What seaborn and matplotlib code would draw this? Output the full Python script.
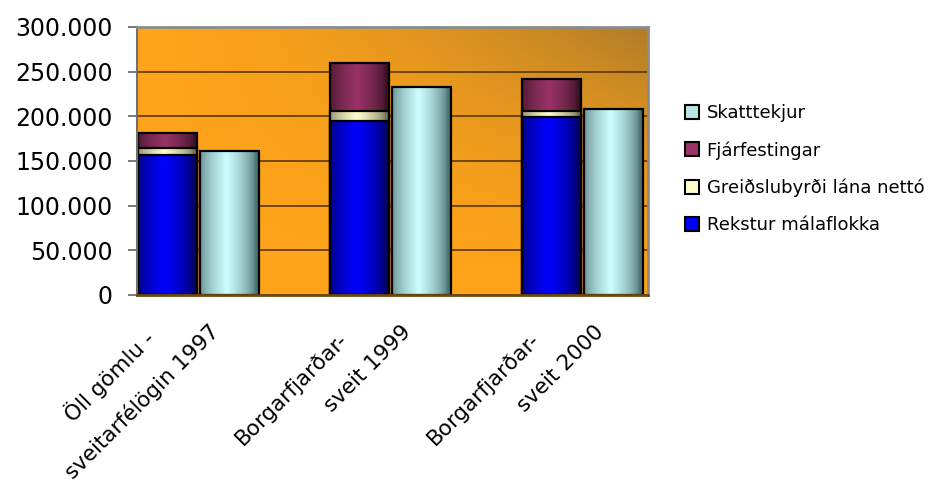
#! /usr/bin/env python3
'''
Rekstur, fjárfestingar og skatttekjur sveitarfélaga - stöplarit
'''

# imports
import numpy as np
import pandas as pd
import seaborn as sns
import matplotlib.pyplot as plt
import matplotlib.transforms as mtransforms
from matplotlib.colors import to_rgb
from matplotlib.patches import Patch

# data
categories = ['Öll gömlu -\nsveitarfélögin 1997', 'Borgarfjarðar-\nsveit 1999', 'Borgarfjarðar-\nsveit 2000']
rekstur = [157000, 195000, 199500]
greidslubyrdi = [7000, 11000, 6000]
fjarfestingar = [17000, 53500, 36000]
skatttekjur = [161000, 233000, 208500]
series_names = ['Skatttekjur', 'Fjárfestingar', 'Greiðslubyrði lána nettó', 'Rekstur málaflokka']
yticks = [0, 50000, 100000, 150000, 200000, 250000, 300000]
ytick_labels = ['0', '50.000', '100.000', '150.000', '200.000', '250.000', '300.000']

# colours: (legend, dark edge, bright centre)
COLORS = {
    'Skatttekjur': ('#B8E6E6', '#4F7070', '#CCFFFF'),
    'Fjárfestingar': ('#993366', '#3A1224', '#993366'),
    'Greiðslubyrði lána nettó': ('#FFFFCC', '#707055', '#FFFFCC'),
    'Rekstur málaflokka': ('#0000FF', '#000060', '#0000FF'),
}
# pixel offsets (dx, dy down) of each label line's baseline end from the category / axis bottom
LINE_OFFSETS = [(-42, 45), (22, 38)]

# gradient helpers
def bar_gradient(dark, light, n=64):
    u = np.linspace(0, 1, n)
    b = np.clip(1 - np.abs(u - 0.45) / 0.5, 0, 1) ** 0.6
    d = np.array(to_rgb(dark)); l = np.array(to_rgb(light))
    row = d[None, :] * (1 - b[:, None]) + l[None, :] * b[:, None]
    return row[None, :, :]

def bg_gradient(n=200):
    x = np.linspace(0, 1, n)[None, :]
    y = np.linspace(1, 0, n)[:, None]
    t = np.clip(x * y, 0, 1) ** 1.6
    c0 = np.array(to_rgb('#FFA41A')); c1 = np.array(to_rgb('#B07C28'))
    return c0 * (1 - t[..., None]) + c1 * t[..., None]

# main program
if __name__ == "__main__":
    plt.rcParams['font.family'] = ['DejaVu Sans']
    fig = plt.figure(figsize=(9.33, 4.83), dpi=100)
    ax = fig.add_axes([137 / 933, 1 - 295 / 483, 511 / 933, 268 / 483])

    cum2 = [r + g for r, g in zip(rekstur, greidslubyrdi)]
    cum3 = [c + f for c, f in zip(cum2, fjarfestingar)]
    layers = [
        (cum3, skatttekjur, 'Fjárfestingar', 'Skatttekjur'),
        (cum2, [0, 0, 0], 'Greiðslubyrði lána nettó', 'Skatttekjur'),
        (rekstur, [0, 0, 0], 'Rekstur málaflokka', 'Skatttekjur'),
    ]
    drawn = [] # (patch, series name) in drawing order
    for stack_vals, side_vals, a_name, b_name in layers:
        df = pd.DataFrame({'cat': categories * 2,
                           'bar': ['a'] * 3 + ['b'] * 3,
                           'val': list(stack_vals) + list(side_vals)})
        n_before = len(ax.patches)
        sns.barplot(data=df, x='cat', y='val', hue='bar', hue_order=['a', 'b'],
                    palette={'a': COLORS[a_name][0], 'b': COLORS[b_name][0]},
                    order=categories, width=0.646, gap=0.05, errorbar=None, saturation=1,
                    edgecolor='black', linewidth=1.6, legend=False, ax=ax)
        for p in ax.patches[n_before:]:
            if p.get_height() <= 0:
                p.remove(); continue
            centre = p.get_x() + p.get_width() / 2
            name = a_name if centre < round(centre) else b_name # left bar = stack
            drawn.append((p, name))

    # gradient fills clipped to each bar
    for i, (p, name) in enumerate(drawn):
        x0 = p.get_x(); w = p.get_width(); h = p.get_height()
        img = ax.imshow(bar_gradient(COLORS[name][1], COLORS[name][2]),
                        extent=[x0, x0 + w, 0, h], aspect='auto', interpolation='bilinear',
                        zorder=2 + i * 0.01)
        img.set_clip_path(p)
        p.set_facecolor('none')
        p.set_zorder(2 + i * 0.01 + 0.005)

    # background
    ax.imshow(bg_gradient(), extent=[0, 1, 0, 1], transform=ax.transAxes,
              aspect='auto', zorder=0.1, interpolation='bilinear')
    ax.set_xlim(-0.32, 2.34)
    ax.set_ylim(0, 300000)
    ax.set_aspect('auto')

    # grid and axes
    ax.set_axisbelow(True)
    ax.yaxis.grid(True, color='#5A3800', linewidth=1.2)
    ax.xaxis.grid(False)
    for ln in ax.get_ygridlines():
        ln.set_zorder(0.5)
    ax.set_yticks(yticks)
    ax.set_yticklabels(ytick_labels, fontsize=17)
    ax.tick_params(axis='y', length=6.5, width=1.2, color='#606060', pad=11)
    ax.set_xticks(range(len(categories)))
    ax.set_xticklabels([''] * len(categories))
    ax.tick_params(axis='x', length=0)
    ax.set_xlabel(''); ax.set_ylabel('')

    # category labels, two rotated lines each
    base = mtransforms.blended_transform_factory(ax.transData, ax.transAxes)
    for i, cat in enumerate(categories):
        for line, (dx, dy) in zip(cat.split('\n'), LINE_OFFSETS):
            tr = base + mtransforms.ScaledTranslation(dx / 100, -dy / 100, fig.dpi_scale_trans)
            ax.text(i, 0, line, transform=tr, rotation=45, rotation_mode='anchor',
                    ha='right', va='baseline', fontsize=15.5, clip_on=False)

    ax.spines['left'].set_color('#707070'); ax.spines['left'].set_linewidth(1.5)
    ax.spines['bottom'].set_color('#6B4A10'); ax.spines['bottom'].set_linewidth(2)
    ax.spines['top'].set_color('#8C8C8C'); ax.spines['top'].set_linewidth(2)
    ax.spines['right'].set_color('#8C8C8C'); ax.spines['right'].set_linewidth(2)

    # legend
    handles = [Patch(facecolor=COLORS[n][0], edgecolor='black', linewidth=1.5) for n in series_names]
    fig.legend(handles, series_names, loc='center left', bbox_to_anchor=(685 / 933, 1 - 169 / 483),
               frameon=False, fontsize=13, handlelength=0.8, handleheight=0.8,
               handletextpad=0.4, labelspacing=1.05, borderpad=0, borderaxespad=0)

    fig.savefig('out.png', dpi=100)
